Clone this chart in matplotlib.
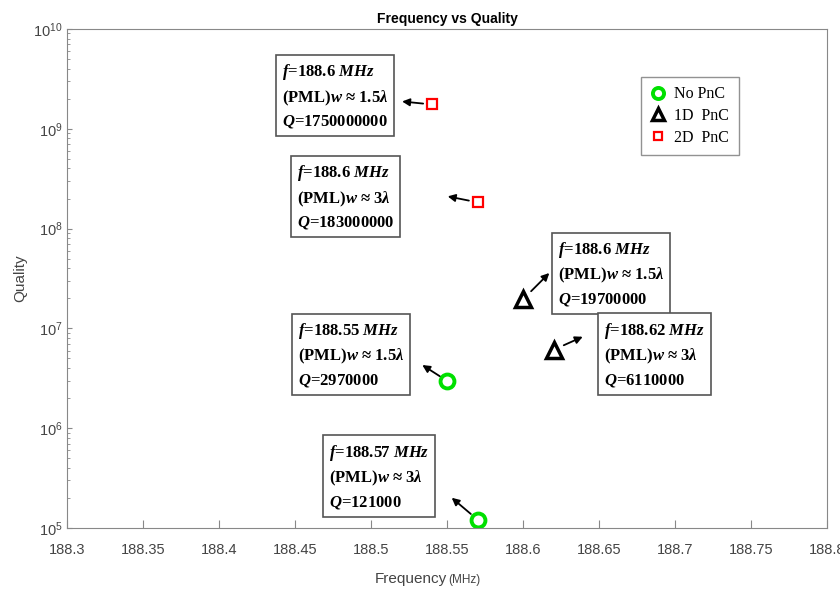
import matplotlib
matplotlib.use("Agg")
import matplotlib.pyplot as plt

# data points
freq_no = [188.55, 188.57]
q_no = [2970000, 121000]

freq_1d = [188.6, 188.62]
q_1d = [19700000, 6110000]

freq_2d = [188.54, 188.57]
q_2d = [1750000000, 183000000]

# the text written in each box (as printed on the chart)
label_f = ["188.6", "188.6", "188.6", "188.62", "188.55", "188.57"]
label_w = ["1.5", "3", "1.5", "3", "1.5", "3"]
label_q = ["1750000000", "183000000", "19700000", "6110000", "2970000", "121000"]

x_ticks = [188.3, 188.35, 188.4, 188.45, 188.5, 188.55, 188.6, 188.65, 188.7, 188.75, 188.8]

plt.rcParams['mathtext.fontset'] = 'custom'
plt.rcParams['mathtext.rm'] = 'Liberation Serif:bold'
plt.rcParams['mathtext.it'] = 'Liberation Serif:bold:italic'
plt.rcParams['font.sans-serif'] = ['Liberation Sans', 'DejaVu Sans']

fig = plt.figure(figsize=(8.4, 5.9), dpi=100)
ax = fig.add_axes([0.080, 0.105, 0.905, 0.846])

ax.plot(freq_no, q_no, 'o', ls='none', mfc='none', mec='#00e000', mew=2.8, ms=10, label='No PnC')
ax.plot(freq_1d, q_1d, '^', ls='none', mfc='none', mec='black', mew=2.5, ms=11, label='1D  PnC')
ax.plot(freq_2d, q_2d, 's', ls='none', mfc='none', mec='red', mew=1.6, ms=7.5, label='2D  PnC')

ax.set_yscale('log')
ax.set_ylim(1e5, 1e10)
ax.set_xlim(188.3, 188.8)
ax.set_xticks(x_ticks)
ax.set_xticklabels([f"{t:g}" for t in x_ticks])

for s in ax.spines.values():
    s.set_color('#888888')
ax.tick_params(direction='in', colors='#888888', labelcolor='#444444', labelsize=10.5)
ax.tick_params(which='minor', direction='in', colors='#888888')
ax.tick_params(axis='x', which='major', length=6, pad=11)

ax.set_title('Frequency vs Quality', fontsize=10, fontweight='bold', pad=4)
ax.set_ylabel('Quality', fontsize=11, color='#444444')
fig.text(0.532, 0.007, 'Frequency', fontsize=11, color='#444444', ha='right', va='bottom')
fig.text(0.534, 0.007, '(MHz)', fontsize=8.5, color='#444444', ha='left', va='bottom')

leg = ax.legend(loc='upper right', bbox_to_anchor=(0.894, 0.92), fancybox=False, edgecolor='#777777',
                prop={'family': 'Liberation Serif', 'size': 11.5}, handlelength=1.0,
                handletextpad=0.5, borderpad=0.6, labelspacing=0.35, markerscale=0.8)

box = dict(boxstyle='square,pad=0.35', fc='white', ec='#555555', lw=1.2)

def label(f, w, q):
    return (r'$f$=' + f + r' $MHz$' + '\n(PML)' + r'$w$' + ' ≈ ' + w + r'$\lambda$'
            + '\n' + r'$Q$=' + q)

# points in the order of the labels, with (box offset px, arrow head offset px, shrink px)
pts = [(freq_2d[0], q_2d[0]), (freq_2d[1], q_2d[1]), (freq_1d[0], q_1d[0]),
       (freq_1d[1], q_1d[1]), (freq_no[0], q_no[0]), (freq_no[1], q_no[1])]
layout = [((-97, 8), (-30, 3), 9), ((-132, 5), (-30, 6), 9), ((88, 25), (26, 26), 11),
          ((101, -5), (29, 13), 11), ((-96, 26), (-25, 16), 9), ((-99, 43), (-26, 22), 9)]
px = 0.72
for i, ((f, q), (boff, aoff, shr)) in enumerate(zip(pts, layout)):
    ax.annotate(label(label_f[i], label_w[i], label_q[i]), xy=(f, q),
                xytext=(boff[0] * px, boff[1] * px), textcoords='offset points',
                ha='center', va='center', ma='left', fontsize=12,
                family='Liberation Serif', fontweight='bold', linespacing=1.45, bbox=box)
    ax.annotate('', xy=(f, q), xytext=(aoff[0] * px, aoff[1] * px), textcoords='offset points',
                arrowprops=dict(arrowstyle='<|-', color='black', lw=1.3, shrinkA=0, shrinkB=shr * px,
                                mutation_scale=11))

fig.savefig('out.png', dpi=100)
